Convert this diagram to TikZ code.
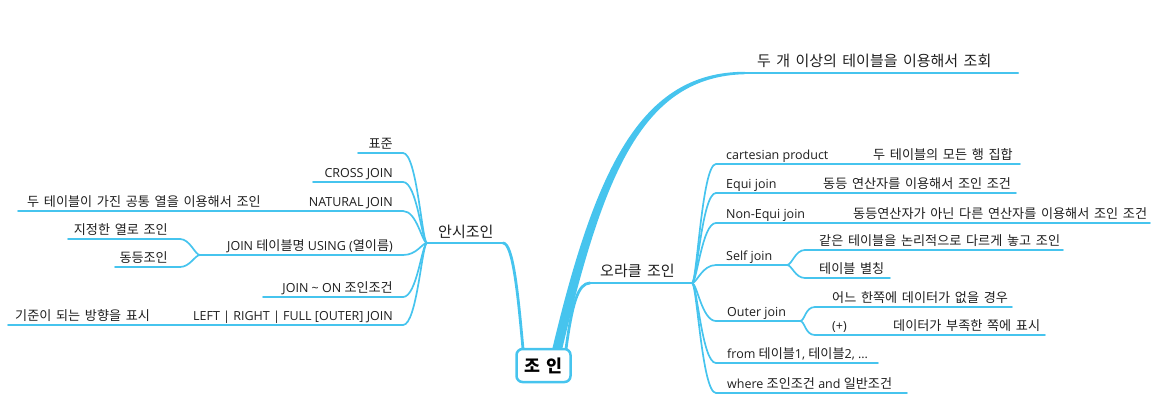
\documentclass[tikz,border=0pt]{standalone}
\usepackage{fontspec}
\setmainfont{Open Sans}
\newfontfamily\krfont[WordSpace=1.6,Scale=1.05]{Noto Sans CJK KR}
\newcommand\K[1]{{\krfont #1}}
\definecolor{br}{RGB}{70,196,238}
\definecolor{tx}{RGB}{30,30,30}
\begin{document}
\begin{tikzpicture}[x=1pt,y=-1pt,
  ln/.style={draw=br, line width=1.7pt, line cap=round},
  lnm/.style={draw=br, line width=2.4pt, line cap=round},
  tl/.style={anchor=base west, inner sep=0pt, text=tx, font=\fontsize{12.5}{14}\selectfont},
  tr/.style={anchor=base east, inner sep=0pt, text=tx, font=\fontsize{12.5}{14}\selectfont},
  tbig/.style={anchor=base west, inner sep=0pt, text=tx, font=\fontsize{14.3}{16}\selectfont},
  centre/.style={draw=br, line width=2.5pt, rounded corners=6pt, fill=white,
    minimum width=54pt, minimum height=33pt, inner sep=0pt, text=black,
    font=\fontsize{16.5}{19}\selectfont\bfseries}]
\useasboundingbox (0,0) rectangle (1159,415);

% ---------- coordinates ----------
\coordinate (A) at (427,243);
\coordinate (Ar) at (503,243);
\coordinate (O) at (692,283);
\coordinate (Ol) at (590,283);
\coordinate (Mt) at (745,73);
\coordinate (Mr) at (1018,73);
\coordinate (cA) at (523,349);
\coordinate (cO) at (566,349);

% left items (right end, left end)
\coordinate (a1) at (403,153); \coordinate (a1l) at (358,153);
\coordinate (a2) at (403,182); \coordinate (a2l) at (313,182);
\coordinate (a3) at (403,211); \coordinate (a3l) at (300,211); \coordinate (a3c) at (18,211);
\coordinate (a4) at (403,255); \coordinate (a4l) at (200,255);
\coordinate (a41) at (180,239); \coordinate (a41l) at (68,239);
\coordinate (a42) at (180,267); \coordinate (a42l) at (115,267);
\coordinate (a5) at (403,297); \coordinate (a5l) at (263,297);
\coordinate (a6) at (403,325); \coordinate (a6l) at (180,325); \coordinate (a6c) at (8,325);

% right items (left start, split, right end)
\coordinate (b1) at (716,164); \coordinate (b1m) at (860,164); \coordinate (b1r) at (1020,164);
\coordinate (b2) at (716,193); \coordinate (b2m) at (812,193); \coordinate (b2r) at (1016,193);
\coordinate (b3) at (716,223); \coordinate (b3m) at (843,223); \coordinate (b3r) at (1150,223);
\coordinate (b4) at (716,265); \coordinate (b4r) at (787,265);
\coordinate (b41) at (805,250); \coordinate (b41r) at (1063,250);
\coordinate (b42) at (805,278); \coordinate (b42r) at (890,278);
\coordinate (b5) at (716,321); \coordinate (b5r) at (800,321);
\coordinate (b51) at (815,307); \coordinate (b51r) at (1012,307);
\coordinate (b52) at (815,335); \coordinate (b52m) at (882,335); \coordinate (b52r) at (1045,335);
\coordinate (b6) at (716,363); \coordinate (b6r) at (878,363);
\coordinate (b7) at (716,393); \coordinate (b7r) at (907,393);

% ---------- main branches ----------
\fill[br] (552,350) .. controls (595,170) and (640,71.6) .. (745,71.8)
  -- (745,74.2) .. controls (643,76.5) and (604,172) .. (562,350) -- cycle;
\draw[ln, line width=2pt] (Mt) -- (Mr);
\draw[lnm, line width=2.8pt] (cA) .. controls +(-5,-55) and +(10,0) .. (Ar);
\draw[lnm] (Ar) -- (A);
\draw[lnm, line width=2.8pt] (cO) .. controls +(6,-45) and +(-12,0) .. (Ol);
\draw[lnm] (Ol) -- (O);

% ---------- left fan ----------
\foreach \p in {a1,a2,a3,a4,a5,a6}
  \draw[ln] (A) .. controls +(-5,0) and +(14,0) .. (\p);
\draw[ln] (a1) -- (a1l);
\draw[ln] (a2) -- (a2l);
\draw[ln] (a3) -- (a3l) -- (a3c);
\draw[ln] (a4) -- (a4l);
\draw[ln] (a4l) .. controls +(-5,0) and +(10,0) .. (a41);
\draw[ln] (a4l) .. controls +(-5,0) and +(10,0) .. (a42);
\draw[ln] (a41) -- (a41l);
\draw[ln] (a42) -- (a42l);
\draw[ln] (a5) -- (a5l);
\draw[ln] (a6) -- (a6l) -- (a6c);

% ---------- right fan ----------
\foreach \p in {b1,b2,b3,b4,b5,b6,b7}
  \draw[ln] (O) .. controls +(5,0) and +(-14,0) .. (\p);
\draw[ln] (b1) -- (b1m) -- (b1r);
\draw[ln] (b2) -- (b2m) -- (b2r);
\draw[ln] (b3) -- (b3m) -- (b3r);
\draw[ln] (b4) -- (b4r);
\draw[ln] (b4r) .. controls +(5,0) and +(-10,0) .. (b41);
\draw[ln] (b4r) .. controls +(5,0) and +(-10,0) .. (b42);
\draw[ln] (b41) -- (b41r);
\draw[ln] (b42) -- (b42r);
\draw[ln] (b5) -- (b5r);
\draw[ln] (b5r) .. controls +(5,0) and +(-10,0) .. (b51);
\draw[ln] (b5r) .. controls +(5,0) and +(-10,0) .. (b52);
\draw[ln] (b51) -- (b51r);
\draw[ln] (b52) -- (b52m) -- (b52r);
\draw[ln] (b6) -- (b6r);
\draw[ln] (b7) -- (b7r);

% ---------- texts ----------
\node[centre] (c) at (543.5,365.5) {\krfont 조 인};
\node[tbig] (main) at (757,66) {\krfont 두 개 이상의 테이블을 이용해서 조회};
\node[tbig] (ansi) at (438,237) {\krfont 안시조인};
\node[tbig] (ora) at (600,276) {\krfont 오라클 조인};

\node[tr] (t1) at (393,148) {\krfont 표준};
\node[tr] (t2) at (393,177) {CROSS JOIN};
\node[tr] (t3) at (393,206) {NATURAL JOIN};
\node[tl] (t3c) at (27,206) {\krfont 두 테이블이 가진 공통 열을 이용해서 조인};
\node[tr] (t4) at (393,250) {JOIN \K{테이블명} USING (\K{열이름})};
\node[tr] (t41) at (168,234) {\krfont 지정한 열로 조인};
\node[tr] (t42) at (168,262) {\krfont 동등조인};
\node[tr] (t5) at (393,292) {JOIN \textasciitilde{} ON \K{조인조건}};
\node[tr] (t6) at (393,320) {LEFT | RIGHT | FULL [OUTER] JOIN};
\node[tl] (t6c) at (15,320) {\krfont 기준이 되는 방향을 표시};

\node[tl] (u1) at (726,159) {cartesian product};
\node[tl] (u1c) at (873,159) {\krfont 두 테이블의 모든 행 집합};
\node[tl] (u2) at (726,188) {Equi join};
\node[tl] (u2c) at (823,188) {\krfont 동등 연산자를 이용해서 조인 조건};
\node[tl] (u3) at (726,218) {Non-Equi join};
\node[tl] (u3c) at (853,218) {\krfont 동등연산자가 아닌 다른 연산자를 이용해서 조인 조건};
\node[tl] (u4) at (726,260) {Self join};
\node[tl] (u41) at (819,245) {\krfont 같은 테이블을 논리적으로 다르게 놓고 조인};
\node[tl] (u42) at (819,273) {\krfont 테이블 별칭};
\node[tl] (u5) at (727,316) {Outer join};
\node[tl] (u51) at (832,302) {\krfont 어느 한쪽에 데이터가 없을 경우};
\node[tl] (u52) at (832,330) {(+)};
\node[tl] (u52c) at (893,330) {\krfont 데이터가 부족한 쪽에 표시};
\node[tl] (u6) at (727,358) {from \K{테이블}1, \K{테이블}2, ...};
\node[tl] (u7) at (727,388) {where \K{조인조건} and \K{일반조건}};
\end{tikzpicture}
\end{document}
